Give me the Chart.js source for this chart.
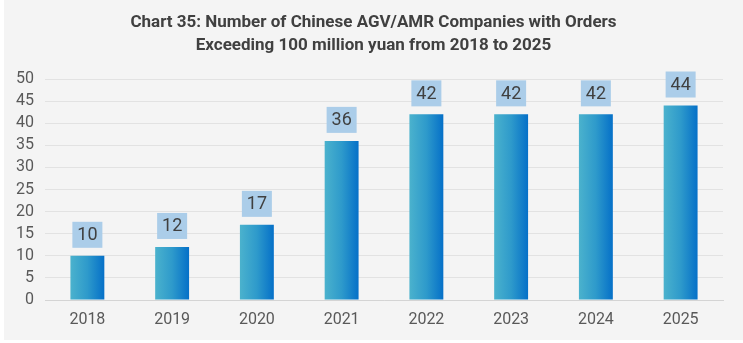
<!DOCTYPE html>
<html>
<head>
<meta charset="utf-8">
<script src="https://cdn.jsdelivr.net/npm/chart.js@4.4.1/dist/chart.umd.min.js"></script>
<style>
  html, body { margin: 0; padding: 0; background: #ffffff; }
  #wrap { position: absolute; left: 4px; top: 0; width: 739px; height: 340px; background: #f4f4f4; }
</style>
</head>
<body>
<div id="wrap"><canvas id="chart" width="739" height="340"></canvas></div>
<script>
const years = ["2018", "2019", "2020", "2021", "2022", "2023", "2024", "2025"];
const companies = [10, 12, 17, 36, 42, 42, 42, 44];
const titleLines = [
  "Chart 35: Number of Chinese AGV/AMR Companies with Orders",
  "Exceeding 100 million yuan from 2018 to 2025"
];

// horizontal gradient across each bar, computed from the x scale
function barFill(ctx) {
  const chart = ctx.chart;
  const xs = chart.scales && chart.scales.x;
  if (!chart.chartArea || !xs) return "#2a90c9";
  const cx = xs.getPixelForValue(ctx.dataIndex);
  const half = (xs.width / years.length) * 0.4 / 2;
  if (!isFinite(cx)) return "#2a90c9";
  const g = chart.ctx.createLinearGradient(cx - half, 0, cx + half, 0);
  g.addColorStop(0, "#4bb2cd");
  g.addColorStop(0.5, "#2e9acb");
  g.addColorStop(1, "#0570c8");
  return g;
}

// two-line bold title
const titlePlugin = {
  id: "titleLines",
  afterDraw(chart) {
    const c = chart.ctx;
    c.save();
    c.font = "bold 17px Roboto";
    c.fillStyle = "#404040";
    c.textAlign = "center";
    c.textBaseline = "middle";
    const cx = chart.width / 2;
    c.fillText(titleLines[0], cx, 23);
    c.fillText(titleLines[1], cx, 46);
    c.restore();
  }
};

// value labels on light blue boxes above bars
const boxLabels = {
  id: "boxLabels",
  afterDatasetsDraw(chart) {
    const c = chart.ctx;
    const meta = chart.getDatasetMeta(0);
    c.save();
    c.font = "18px Roboto";
    c.textAlign = "center";
    c.textBaseline = "middle";
    meta.data.forEach((bar, i) => {
      const w = 30, h = 26;
      const bottom = bar.y - 8;
      c.fillStyle = "#abcde9";
      c.fillRect(bar.x - w / 2, bottom - h, w, h);
      c.fillStyle = "#404040";
      c.fillText(String(companies[i]), bar.x, bottom - h / 2 + 1);
    });
    c.restore();
  }
};

new Chart(document.getElementById("chart"), {
  type: "bar",
  data: {
    labels: years,
    datasets: [{
      data: companies,
      backgroundColor: barFill,
      barPercentage: 0.4,
      categoryPercentage: 1
    }]
  },
  options: {
    responsive: false,
    animation: false,
    layout: { padding: { top: 79, right: 20, bottom: 0, left: 0 } },
    plugins: {
      legend: { display: false },
      title: { display: false },
      tooltip: { enabled: false }
    },
    scales: {
      x: {
        grid: { display: false, drawTicks: false },
        border: { color: "#d4d4d4", width: 1 },
        ticks: { color: "#595959", font: { family: "Roboto", size: 16, lineHeight: 1 }, padding: 12 }
      },
      y: {
        min: 0,
        max: 50,
        afterFit(scale) { scale.width = 41; },
        grid: { color: "#e2e2e2", drawTicks: false },
        border: { display: false },
        ticks: { stepSize: 5, autoSkip: false, color: "#595959", font: { family: "Roboto", size: 16 }, padding: 11 }
      }
    }
  },
  plugins: [titlePlugin, boxLabels]
});
</script>
</body>
</html>
